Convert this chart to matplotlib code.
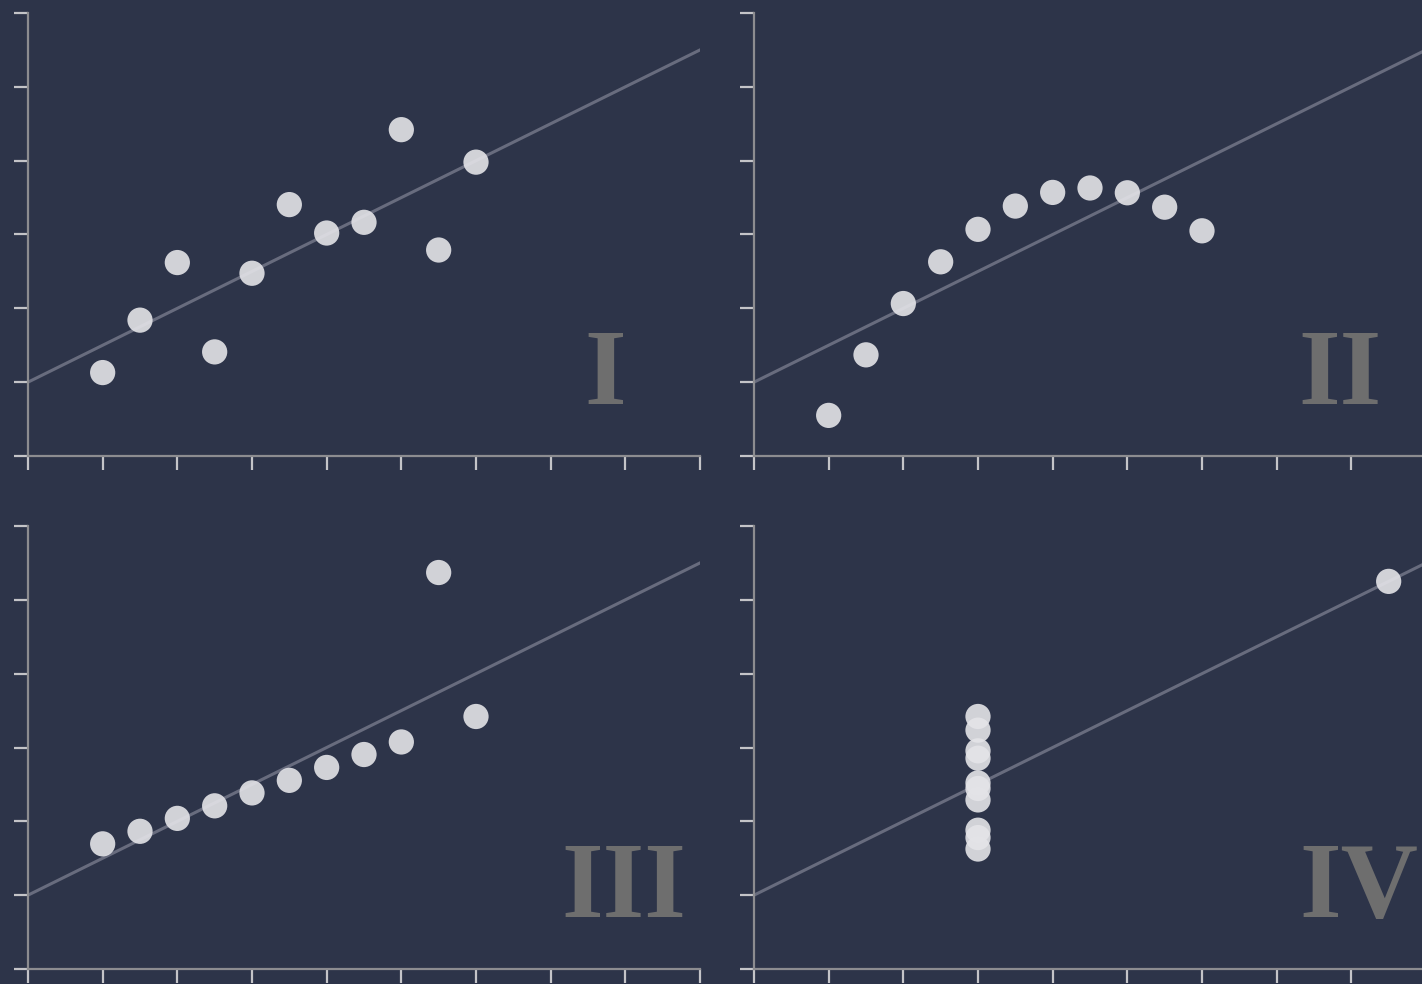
import matplotlib
matplotlib.use('Agg')
import matplotlib.pyplot as plt
import numpy as np

# Anscombe's quartet
x_123 = [10, 8, 13, 9, 11, 14, 6, 4, 12, 7, 5]
y_1 = [8.04, 6.95, 7.58, 8.81, 8.33, 9.96, 7.24, 4.26, 10.84, 4.82, 5.68]
y_2 = [9.14, 8.14, 8.74, 8.77, 9.26, 8.10, 6.13, 3.10, 9.13, 7.26, 4.74]
y_3 = [7.46, 6.77, 12.74, 7.11, 7.81, 8.84, 6.08, 5.39, 8.15, 6.42, 5.73]
x_4 = [8, 8, 8, 8, 8, 8, 8, 19, 8, 8, 8]
y_4 = [6.58, 5.76, 7.71, 8.84, 8.47, 7.04, 5.25, 12.50, 5.56, 7.91, 6.89]

labels = ['I', 'II', 'III', 'IV']
label_x = [17.47, 17.70, 17.95, 18.19]

# regression line shared by all four sets: y = 3 + 0.5x
fit_intercept = 3.0
fit_slope = 0.5

bg = '#2d3449'
fig = plt.figure(figsize=(14.22, 9.84), dpi=100)
fig.patch.set_facecolor(bg)

W, H = 1422, 984
# axes boxes in pixels: left, top, right, bottom
boxes = [(28, 13, 700, 456), (754, 13, 1426, 456),
         (28, 526, 700, 969), (754, 526, 1426, 969)]
datasets = [(x_123, y_1), (x_123, y_2), (x_123, y_3), (x_4, y_4)]

for (l, t, r, b), (xs, ys), lab, lx in zip(boxes, datasets, labels, label_x):
    ax = fig.add_axes([l / W, 1 - b / H, (r - l) / W, (b - t) / H])
    ax.set_facecolor(bg)
    ax.set_xlim(2, 20)
    ax.set_ylim(2, 14)
    ax.set_xticks(np.arange(2, 21, 2))
    ax.set_yticks(np.arange(2, 15, 2))
    ax.set_xticklabels([])
    ax.set_yticklabels([])
    for s in ['top', 'right']:
        ax.spines[s].set_visible(False)
    for s in ['left', 'bottom']:
        ax.spines[s].set_color('#8c8c90')
        ax.spines[s].set_linewidth(1.6)
    ax.tick_params(length=10, width=1.6, color='#c4c4c8')

    line_x = np.array([2, 20])
    ax.plot(line_x, fit_intercept + fit_slope * line_x, color='#686c7e',
            lw=2.2, zorder=2)
    ax.scatter(xs, ys, s=330, color='#e4e4e8', alpha=0.9, edgecolors='none',
               zorder=3, clip_on=False)
    ax.text(lx, 3.4, lab, ha='center', va='baseline', fontsize=77,
            fontweight='bold', family='Liberation Serif', color='#6e6e6e',
            zorder=1)

fig.savefig('out.png', dpi=100, facecolor=bg)
